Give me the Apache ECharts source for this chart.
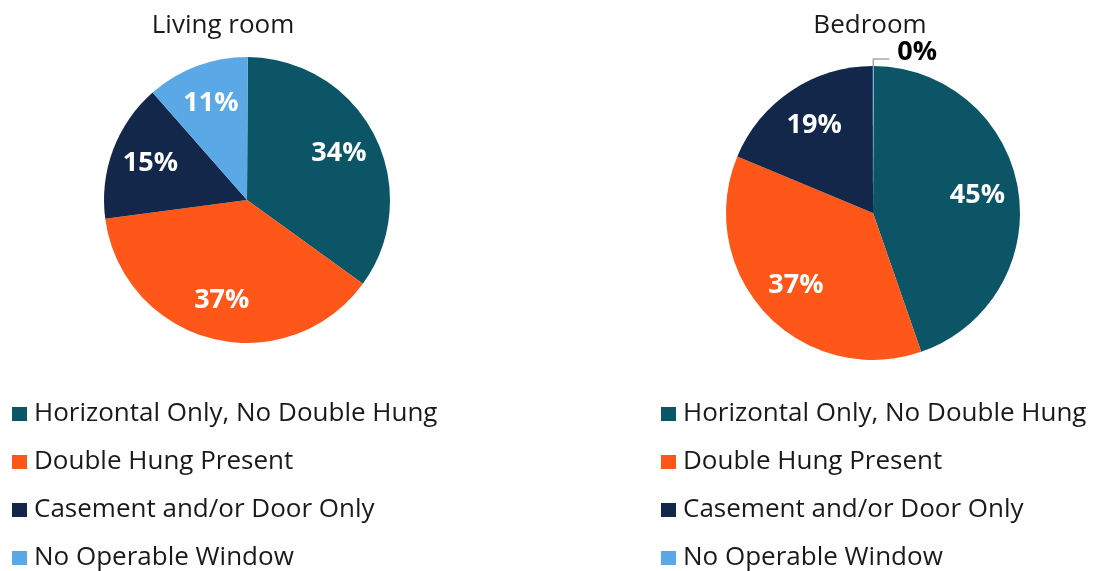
<!DOCTYPE html>
<html>
<head>
<meta charset="utf-8">
<script src="https://cdn.jsdelivr.net/npm/echarts@6/dist/echarts.min.js"></script>
<style>
  html, body { margin: 0; padding: 0; background: #fff; }
  #main { width: 1096px; height: 571px; }
</style>
</head>
<body>
<div id="main"></div>
<script>
// categories and values (percent)
var categories = ['Horizontal Only, No Double Hung', 'Double Hung Present', 'Casement and/or Door Only', 'No Operable Window'];
var livingRoom = [34.4, 37.4, 15.4, 11.4];
var bedroom = [44.6, 36.6, 18.7, 0.1];
var colors = ['#0b5566', '#ff5619', '#13274a', '#5aa9e6'];

var fontFam = '"Open Sans", "Noto Sans", sans-serif';

function pct(p) { return Math.round(p.value) + '%'; }

// base pie, outside label only for the tiny slice
function basePie(vals, center, r) {
  return {
    type: 'pie',
    center: center,
    radius: [0, r],
    startAngle: 89.7,
    clockwise: true,
    silent: true,
    avoidLabelOverlap: false,
    itemStyle: { borderWidth: 0 },
    label: { show: false },
    labelLine: { show: false },
    labelLayout: function(params) {
      // lift the tiny "0%" label a bit, like the original
      return vals[params.dataIndex] < 1 ? { dy: -7, dx: 3 } : {};
    },
    data: vals.map(function(v, i) {
      var d = { name: categories[i], value: v, itemStyle: { color: colors[i] } };
      if (v < 1) {
        d.label = { show: true, position: 'outside', formatter: pct, color: '#000', fontSize: 27, fontWeight: 'bold', fontFamily: fontFam };
        d.labelLine = { show: true, length: 7, length2: 16, lineStyle: { color: '#a6a6a6', width: 1.5 } };
      }
      return d;
    })
  };
}

// overlay pie just to push inside labels out to ~0.7 r
function labelPie(vals, center, r) {
  return {
    type: 'pie',
    center: center,
    radius: [r * 0.4, r],
    startAngle: 89.7,
    silent: true,
    itemStyle: { color: 'transparent' },
    label: { show: true, position: 'inside', formatter: pct, color: '#fff', fontSize: 27, fontWeight: 'bold', fontFamily: fontFam },
    labelLine: { show: false },
    data: vals.map(function(v, i) {
      var d = { name: categories[i], value: v };
      if (v < 1) d.label = { show: false };
      return d;
    })
  };
}

function legendAt(left) {
  return {
    orient: 'vertical',
    left: left,
    top: 400,
    height: 180,
    padding: 0,
    icon: 'rect',
    itemWidth: 15,
    itemHeight: 14,
    itemGap: 20,
    selectedMode: false,
    data: categories,
    textStyle: { fontSize: 26, lineHeight: 28, color: '#1a1a1a', fontFamily: fontFam, padding: [0, 0, 0, 2] }
  };
}

var myChart = echarts.init(document.getElementById('main'));
var option = {
  backgroundColor: '#fff',
  animation: false,
  color: colors,
  title: [
    { text: 'Living room', left: 218, top: 8, textAlign: 'center', textStyle: { fontSize: 26, fontWeight: 'normal', color: '#1a1a1a', fontFamily: fontFam } },
    { text: 'Bedroom', left: 865, top: 8, textAlign: 'center', textStyle: { fontSize: 26, fontWeight: 'normal', color: '#1a1a1a', fontFamily: fontFam } }
  ],
  legend: [legendAt(12), legendAt(661)],
  series: [
    basePie(livingRoom, [247, 200], 143),
    labelPie(livingRoom, [247, 200], 143),
    basePie(bedroom, [873, 213], 147),
    labelPie(bedroom, [873, 213], 147)
  ]
};
myChart.setOption(option);
</script>
</body>
</html>
